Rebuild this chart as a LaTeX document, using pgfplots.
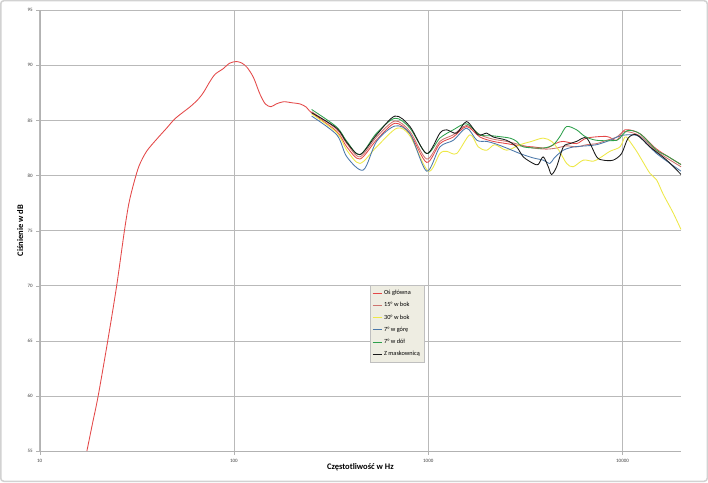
\documentclass[border=0pt]{standalone}
\usepackage{fontspec}
\setmainfont{Carlito}
\usepackage{pgfplots}
\pgfplotsset{compat=1.18}
\usepackage{pgfplotstable}

\definecolor{cRed}{RGB}{228,72,72}
\definecolor{cPink}{RGB}{205,115,110}
\definecolor{cYel}{RGB}{238,232,70}
\definecolor{cBlue}{RGB}{75,120,170}
\definecolor{cGreen}{RGB}{45,160,75}
\definecolor{cBlack}{RGB}{25,25,25}
\definecolor{legbg}{RGB}{238,237,226}

\pgfplotstableread{
f db
17.5 55
18.7 57.5
20 60
22.4 65
24.9 70
27.3 75
28.8 77.5
30.5 79.3
32.5 80.9
35.5 82.2
40 83.3
45 84.3
50 85.2
60 86.3
66 87.0
70 87.6
75 88.5
80 89.2
88 89.7
95 90.2
103 90.35
110 90.2
117 89.8
126 88.9
136 87.4
145 86.5
155 86.25
165 86.5
180 86.7
200 86.6
219 86.5
236 86.2
251 85.7
338 84.0
381 82.6
445 81.5
542 83.24
674 84.75
805 83.8
981 81.2
1148 82.9
1345 83.5
1576 84.45
1845 83.5
2161 83.1
2532 82.9
2965 82.7
3470 82.6
4063 82.5
4579 82.95
4955 83.1
5800 82.9
6535 83.4
8280 83.55
9330 83.2
10280 84.15
12290 83.8
14980 82.4
20000 81.0
}\tRed

\pgfplotstableread{
f db
251 85.8
338 84.2
381 82.9
445 81.7
542 83.5
674 84.95
805 84.0
981 81.5
1148 83.1
1345 83.7
1576 84.55
1845 83.7
2161 83.3
2532 83.1
2965 82.8
3470 82.5
4063 82.4
4579 82.5
5155 82.7
5800 82.6
6535 82.8
7360 82.9
8280 83.2
9330 83.5
10280 84.0
12290 83.6
14980 82.2
20000 80.8
}\tPink

\pgfplotstableread{
f db
251 85.6
338 83.9
381 82.3
445 81.1
542 82.6
690 84.3
805 83.6
1000 80.4
1148 82.0
1244 82.2
1400 82.0
1639 83.7
1808 82.6
1999 82.3
2200 82.8
2532 82.3
2965 82.8
3400 83.1
3900 83.4
4312 83.1
4700 82.3
5155 81.1
5571 80.8
6280 81.4
7066 81.3
7650 81.6
8610 82.2
9700 82.6
10280 83.5
10690 83.3
11820 82.2
12780 81.2
13840 80.2
14980 79.6
16200 78.3
18240 76.6
20000 75.1
}\tYel

\pgfplotstableread{
f db
251 85.4
338 83.7
381 81.7
463 80.5
542 83.1
674 84.5
805 83.8
981 80.4
1148 82.6
1345 83.2
1576 84.3
1780 83.2
1999 83.1
2200 82.9
2532 82.5
2965 82.0
3470 81.6
3907 81.4
4230 81.1
4450 81.6
4955 82.3
5600 82.6
6535 82.7
7360 82.8
8610 83.2
9700 83.6
10910 83.7
12290 83.5
14980 82.0
20000 80.4
}\tBlue

\pgfplotstableread{
f db
251 86.0
338 84.4
381 83.1
445 81.9
542 83.85
674 85.2
805 84.3
981 82.0
1148 83.4
1345 84.15
1576 84.7
1845 83.7
2161 83.6
2633 83.4
2851 83.1
3090 82.6
3907 82.5
4400 82.8
4764 83.55
5155 84.45
5800 84.15
6410 83.55
7360 83.2
9330 83.2
9890 83.6
10690 84.1
12290 83.8
14980 82.3
16870 81.8
20000 81.0
}\tGreen

\pgfplotstableread{
f db
251 85.7
338 84.3
381 83.0
445 81.9
542 83.7
674 85.4
805 84.45
981 82.0
1148 83.85
1244 84.15
1400 83.85
1576 84.9
1808 83.7
1999 83.85
2161 83.5
2532 83.2
2851 82.6
3083 81.7
3470 81.1
3680 81.0
3907 81.7
4147 80.8
4312 80.1
4579 80.8
4955 82.6
5360 82.9
5800 83.1
6535 83.4
7360 81.7
7950 81.4
8950 81.4
9890 82.0
10690 83.4
11820 83.7
13840 82.6
16870 81.4
20000 80.1
}\tBlack

\begin{document}
\begin{tikzpicture}
\useasboundingbox (0,0) rectangle (708pt,482pt);
\fill[white] (0,0) rectangle (708pt,482pt);
\draw[gray!35, line width=1.5pt, rounded corners=3pt] (0.75pt,0.75pt) rectangle (707.25pt,481.25pt);
\begin{axis}[
  at={(39.7pt,31pt)}, anchor=south west,
  scale only axis, width=641.3pt, height=440.7pt,
  xmode=log, log basis x=10,
  xmin=10, xmax=20000, ymin=55, ymax=95,
  xtick={10,100,1000,10000}, xticklabels={10,100,1000,10000},
  ytick={55,60,...,95},
  grid=both,
  major grid style={gray!55, line width=0.5pt},
  minor grid style={gray!28, line width=0.5pt},
  axis x line*=bottom, axis y line*=left,
  axis line style={gray!60, -},
  tick align=outside, major tick length=3.5pt, minor tick length=0pt,
  tick style={gray!60},
  /pgf/number format/assume math mode=true,
  ticklabel style={font=\fontsize{5}{6}\selectfont, text=black!75},
  xticklabel style={yshift=-1pt},
  xlabel={\textbf{Częstotliwość w Hz}},
  ylabel={\textbf{Ciśnienie w dB}},
  every axis x label/.style={at={(axis description cs:0.5,-0.036)}, anchor=center, font=\fontsize{8.5}{10}\selectfont},
  every axis y label/.style={at={(axis description cs:-0.0305,0.5)}, anchor=center, rotate=90, font=\fontsize{8.5}{10}\selectfont},
  legend style={at={(axis description cs:0.515,0.3767)}, anchor=north west,
    fill=legbg, draw=gray!50, font=\fontsize{6.3}{7.5}\selectfont,
    row sep=2.4pt, inner xsep=2pt, inner ysep=3pt},
  legend cell align=left,
  legend image code/.code={\draw[#1, line width=0.9pt] (0pt,0pt) -- (9pt,0pt);},
  every axis plot/.append style={line width=0.85pt, smooth, tension=0.5},
]
\addplot[draw=cRed, no markers] table[x=f,y=db]{\tRed};
\addlegendentry{Oś główna}
\addplot[draw=cPink, no markers] table[x=f,y=db]{\tPink};
\addlegendentry{15° w bok}
\addplot[draw=cYel, no markers] table[x=f,y=db]{\tYel};
\addlegendentry{30° w bok}
\addplot[draw=cBlue, no markers] table[x=f,y=db]{\tBlue};
\addlegendentry{7° w górę}
\addplot[draw=cGreen, no markers] table[x=f,y=db]{\tGreen};
\addlegendentry{7° w dół}
\addplot[draw=cBlack, no markers] table[x=f,y=db]{\tBlack};
\addlegendentry{Z maskownicą}
\end{axis}
\end{tikzpicture}
\end{document}
